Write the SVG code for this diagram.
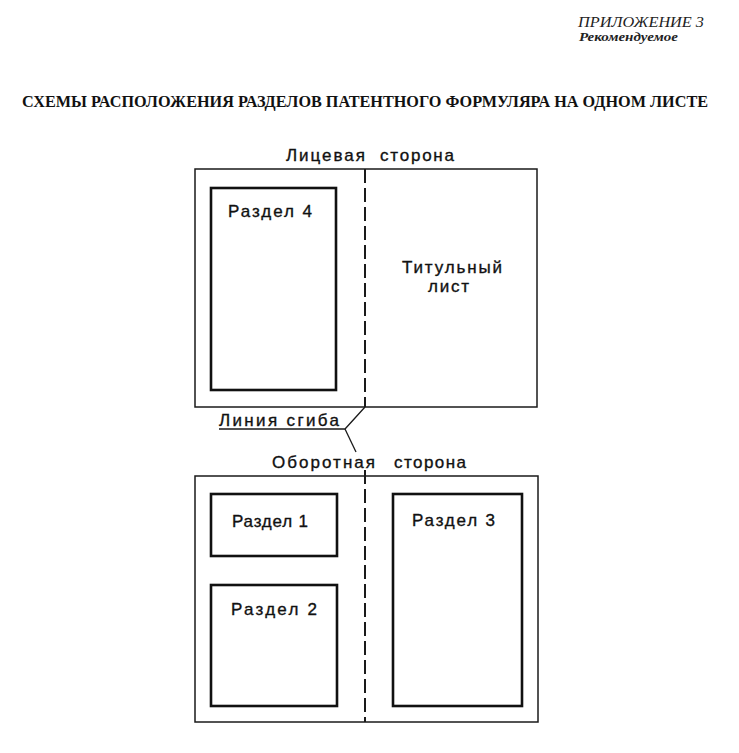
<svg xmlns="http://www.w3.org/2000/svg" width="739" height="753" viewBox="0 0 739 753">
<style>
.sheet{fill:none;stroke:#1a1a1a;stroke-width:1.5}
.sec{fill:none;stroke:#111;stroke-width:2.6}
.fold{fill:none;stroke:#1a1a1a;stroke-width:2;stroke-dasharray:14 5}
.lbl{font-family:"Liberation Sans",Arial,sans-serif;font-size:17px;fill:#111;stroke:#111;stroke-width:0.35}
.hdr{font-family:"Liberation Serif","Times New Roman",serif;font-style:italic;fill:#222}
.ttl{font-family:"Liberation Serif","Times New Roman",serif;font-weight:bold;font-size:16px;fill:#111}
.lead{fill:none;stroke:#1a1a1a;stroke-width:1.3}
</style>
<rect width="739" height="753" fill="#fff"/>
<g id="header">
<text class="hdr" x="704" y="27" font-size="14" text-anchor="end" textLength="126" lengthAdjust="spacingAndGlyphs">ПРИЛОЖЕНИЕ 3</text>
<text class="hdr" x="579" y="41" font-size="13" font-weight="bold" textLength="99" lengthAdjust="spacingAndGlyphs">Рекомендуемое</text>
</g>
<g id="title">
<text class="ttl" x="22" y="107" textLength="686" lengthAdjust="spacingAndGlyphs">СХЕМЫ РАСПОЛОЖЕНИЯ РАЗДЕЛОВ ПАТЕНТНОГО ФОРМУЛЯРА НА ОДНОМ ЛИСТЕ</text>
</g>
<g id="front-side">
<text class="lbl" font-size="16"><tspan x="286" y="161" textLength="79">Лицевая</tspan><tspan x="380" y="161" textLength="74">сторона</tspan></text>
<rect class="sheet" x="195" y="169" width="342" height="238"/>
<line class="fold" x1="365" y1="169" x2="365" y2="407"/>
</g>
<g id="section-4">
<rect class="sec" x="211" y="188" width="125" height="202"/>
<text class="lbl" x="228" y="217" textLength="84">Раздел 4</text>
</g>
<g id="title-page">
<text class="lbl" x="402" y="273" textLength="100">Титульный</text>
<text class="lbl" x="428" y="292" textLength="41">лист</text>
</g>
<g id="fold-label">
<text class="lbl" x="219" y="426" textLength="120">Линия сгиба</text>
</g>
<g id="back-side">
<text class="lbl"><tspan x="272" y="468" textLength="103">Оборотная</tspan><tspan x="394" y="468" textLength="72">сторона</tspan></text>
<rect class="sheet" x="195" y="476" width="343" height="246"/>
<line class="fold" x1="365" y1="470" x2="365" y2="722"/>
</g>
<g id="section-1">
<rect class="sec" x="211" y="494" width="126" height="62"/>
<text class="lbl" x="232" y="527" textLength="76">Раздел 1</text>
</g>
<g id="section-2">
<rect class="sec" x="211" y="585" width="126" height="121"/>
<text class="lbl" x="231" y="615" textLength="86">Раздел 2</text>
</g>
<g id="section-3">
<rect class="sec" x="393" y="494" width="129" height="212"/>
<text class="lbl" x="412" y="526" textLength="83">Раздел 3</text>
</g>
<g id="connectors">
<polyline class="lead" points="219,429 345,429 365,407"/>
<line class="lead" x1="345" y1="429" x2="356" y2="452"/>
</g>
</svg>
